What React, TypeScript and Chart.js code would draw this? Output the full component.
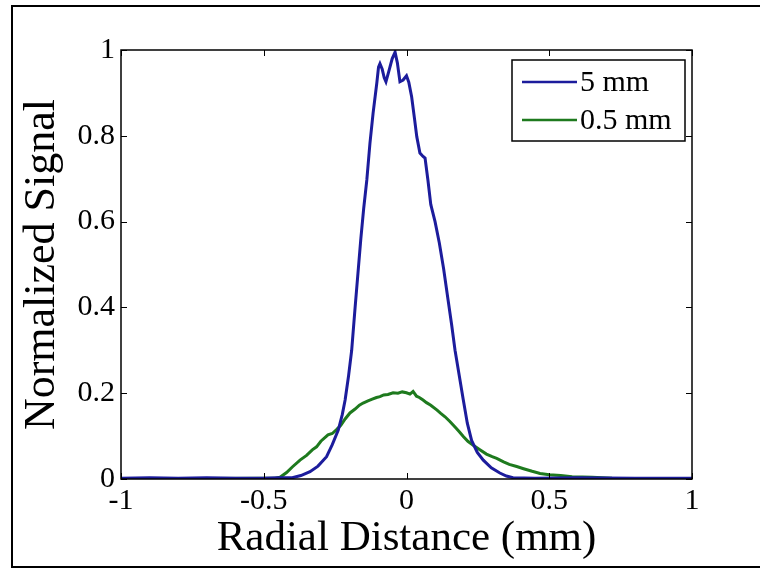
import React, { useEffect, useRef } from "react";
import { Chart, registerables } from "chart.js";

Chart.register(...registerables);

// Series: 5 mm (blue)
const blueX = [
  -1, -0.9, -0.8, -0.7, -0.6, -0.5, -0.45, -0.4, -0.37, -0.338, -0.31, -0.28, -0.26, -0.239,
  -0.225, -0.215, -0.203, -0.192, -0.18, -0.17, -0.16, -0.15, -0.139, -0.128, -0.117, -0.104,
  -0.098, -0.093, -0.085, -0.078, -0.072, -0.062, -0.05, -0.04, -0.032, -0.023, -0.012, 0.0,
  0.008, 0.018, 0.028, 0.036, 0.047, 0.058, 0.065, 0.075, 0.085, 0.1, 0.115, 0.13, 0.145, 0.158,
  0.17, 0.185, 0.199, 0.213, 0.228, 0.248, 0.269, 0.297, 0.327, 0.35, 0.373, 0.45, 0.6, 0.8, 1,
];
const blueY = [
  0.002, 0.003, 0.002, 0.003, 0.002, 0.002, 0.003, 0.003, 0.008, 0.017, 0.03, 0.052, 0.08, 0.114,
  0.15, 0.184, 0.24, 0.3, 0.4, 0.48, 0.56, 0.63, 0.697, 0.783, 0.853, 0.923,
  0.96, 0.968, 0.955, 0.935, 0.926, 0.95, 0.98, 0.995, 0.97, 0.926, 0.93, 0.94,
  0.925, 0.891, 0.84, 0.798, 0.76, 0.752, 0.748, 0.697, 0.64, 0.6, 0.55, 0.49, 0.42, 0.36,
  0.3, 0.24, 0.184, 0.13, 0.09, 0.062, 0.044, 0.026, 0.014, 0.007, 0.003, 0.002, 0.003, 0.002, 0.002,
];

// Series: 0.5 mm (green)
const greenX = [
  -1, -0.7, -0.5, -0.46, -0.443, -0.42, -0.4, -0.373, -0.35, -0.33, -0.315, -0.3, -0.275, -0.26,
  -0.245, -0.23, -0.215, -0.198, -0.18, -0.165, -0.152, -0.135, -0.12, -0.105, -0.093, -0.08,
  -0.065, -0.047, -0.03, -0.015, 0.0, 0.012, 0.023, 0.035, 0.045, 0.058, 0.07, 0.085, 0.106,
  0.12, 0.135, 0.152, 0.17, 0.185, 0.199, 0.215, 0.235, 0.257, 0.28, 0.3, 0.316, 0.34, 0.36,
  0.386, 0.41, 0.44, 0.468, 0.5, 0.54, 0.58, 0.65, 0.72, 0.8, 1,
];
const greenY = [
  0.001, 0.001, 0.002, 0.002, 0.004, 0.015, 0.028, 0.044, 0.055, 0.068, 0.075, 0.088, 0.103, 0.106,
  0.115, 0.125, 0.14, 0.154, 0.163, 0.172, 0.177, 0.182, 0.186, 0.19, 0.192, 0.196,
  0.197, 0.201, 0.2, 0.203, 0.201, 0.198, 0.204, 0.193, 0.19, 0.184, 0.178, 0.172, 0.161,
  0.153, 0.145, 0.134, 0.121, 0.11, 0.099, 0.088, 0.078, 0.068, 0.058, 0.052, 0.048, 0.04, 0.034,
  0.029, 0.024, 0.018, 0.013, 0.01, 0.008, 0.005, 0.004, 0.002, 0.001, 0.001,
];

const seriesLabels = ["5 mm", "0.5 mm"];
const seriesColors = ["#1c1c9c", "#1e7a1e"];
const xTicks = [-1, -0.5, 0, 0.5, 1];
const yTicks = [0, 0.2, 0.4, 0.6, 0.8, 1];
const xTitle = "Radial Distance (mm)";
const yTitle = "Normalized Signal";

const SERIF = "'Liberation Serif', 'Times New Roman', serif";

const framePlugin = {
  id: "frame",
  beforeDraw(chart: any) {
    const ctx = chart.ctx;
    ctx.save();
    ctx.fillStyle = "#ffffff";
    ctx.fillRect(0, 0, chart.width, chart.height);
    ctx.strokeStyle = "#000000";
    ctx.lineWidth = 2;
    ctx.strokeRect(12, 6, chart.width + 20, 561);
    ctx.restore();
  },
};

const boxPlugin = {
  id: "axesBox",
  afterDatasetsDraw(chart: any) {
    const ctx = chart.ctx;
    const { left, right, top, bottom } = chart.chartArea;
    const xs = chart.scales.x;
    const ys = chart.scales.y;
    ctx.save();
    ctx.strokeStyle = "#000000";
    ctx.lineWidth = 1.5;
    ctx.strokeRect(left, top, right - left, bottom - top);
    ctx.lineWidth = 1;
    const tl = 6;
    ctx.beginPath();
    xTicks.forEach((v) => {
      const px = Math.round(xs.getPixelForValue(v)) + 0.5;
      ctx.moveTo(px, bottom);
      ctx.lineTo(px, bottom - tl);
      ctx.moveTo(px, top);
      ctx.lineTo(px, top + tl);
    });
    yTicks.forEach((v) => {
      const py = Math.round(ys.getPixelForValue(v)) + 0.5;
      ctx.moveTo(left, py);
      ctx.lineTo(left + tl, py);
      ctx.moveTo(right, py);
      ctx.lineTo(right - tl, py);
    });
    ctx.stroke();

    // legend
    const lx = 512, ly = 60, lw = 173, lh = 81;
    ctx.fillStyle = "#ffffff";
    ctx.fillRect(lx, ly, lw, lh);
    ctx.lineWidth = 1.5;
    ctx.strokeStyle = "#000000";
    ctx.strokeRect(lx, ly, lw, lh);
    ctx.font = "30px " + SERIF;
    ctx.textBaseline = "middle";
    ctx.textAlign = "left";
    chart.data.datasets.forEach((ds: any, i: number) => {
      const y = ly + 22 + i * 38;
      ctx.strokeStyle = ds.borderColor;
      ctx.lineWidth = 2.5;
      ctx.beginPath();
      ctx.moveTo(lx + 10, y);
      ctx.lineTo(lx + 65, y);
      ctx.stroke();
      ctx.fillStyle = "#000000";
      ctx.fillText(ds.label, lx + 68, y + 1);
    });
    ctx.restore();
  },
};

export default function App() {
  const ref = useRef<HTMLCanvasElement | null>(null);

  useEffect(() => {
    document.body.style.margin = "0";
    const canvas = ref.current;
    if (!canvas) return;
    const chart = new Chart(canvas, {
      type: "line",
      data: {
        datasets: [
          {
            label: seriesLabels[0],
            data: blueX.map((x, i) => ({ x, y: blueY[i] })),
            borderColor: seriesColors[0],
            borderWidth: 3,
            pointRadius: 0,
            tension: 0,
            fill: false,
          },
          {
            label: seriesLabels[1],
            data: greenX.map((x, i) => ({ x, y: greenY[i] })),
            borderColor: seriesColors[1],
            borderWidth: 3,
            pointRadius: 0,
            tension: 0,
            fill: false,
          },
        ],
      },
      options: {
        responsive: false,
        animation: false,
        devicePixelRatio: 1,
        layout: { padding: { left: 0, top: 50, right: 68, bottom: 0 } },
        plugins: { legend: { display: false }, tooltip: { enabled: false } },
        scales: {
          x: {
            type: "linear",
            min: -1,
            max: 1,
            afterBuildTicks: (s: any) => {
              s.ticks = xTicks.map((v) => ({ value: v }));
            },
            afterFit: (s: any) => {
              s.height = 92;
            },
            grid: { display: false, drawTicks: false },
            border: { display: false },
            ticks: {
              color: "#000000",
              font: { family: SERIF, size: 30 },
              padding: 4,
              maxRotation: 0,
              autoSkip: false,
              callback: (v: any) => String(v),
            },
            title: {
              display: true,
              text: xTitle,
              color: "#000000",
              font: { family: SERIF, size: 43 },
              padding: { top: 0, bottom: 6 },
            },
          },
          y: {
            type: "linear",
            min: 0,
            max: 1,
            afterBuildTicks: (s: any) => {
              s.ticks = yTicks.map((v) => ({ value: v }));
            },
            afterFit: (s: any) => {
              s.width = 121;
            },
            grid: { display: false, drawTicks: false },
            border: { display: false },
            ticks: {
              color: "#000000",
              font: { family: SERIF, size: 30 },
              padding: 6,
              autoSkip: false,
              callback: (v: any) => String(v),
            },
            title: {
              display: true,
              text: yTitle,
              color: "#000000",
              font: { family: SERIF, size: 44 },
              padding: { top: 16, bottom: 0 },
            },
          },
        },
      },
      plugins: [framePlugin, boxPlugin],
    } as any);
    return () => chart.destroy();
  }, []);

  return <canvas ref={ref} width={760} height={571} style={{ display: "block" }} />;
}
